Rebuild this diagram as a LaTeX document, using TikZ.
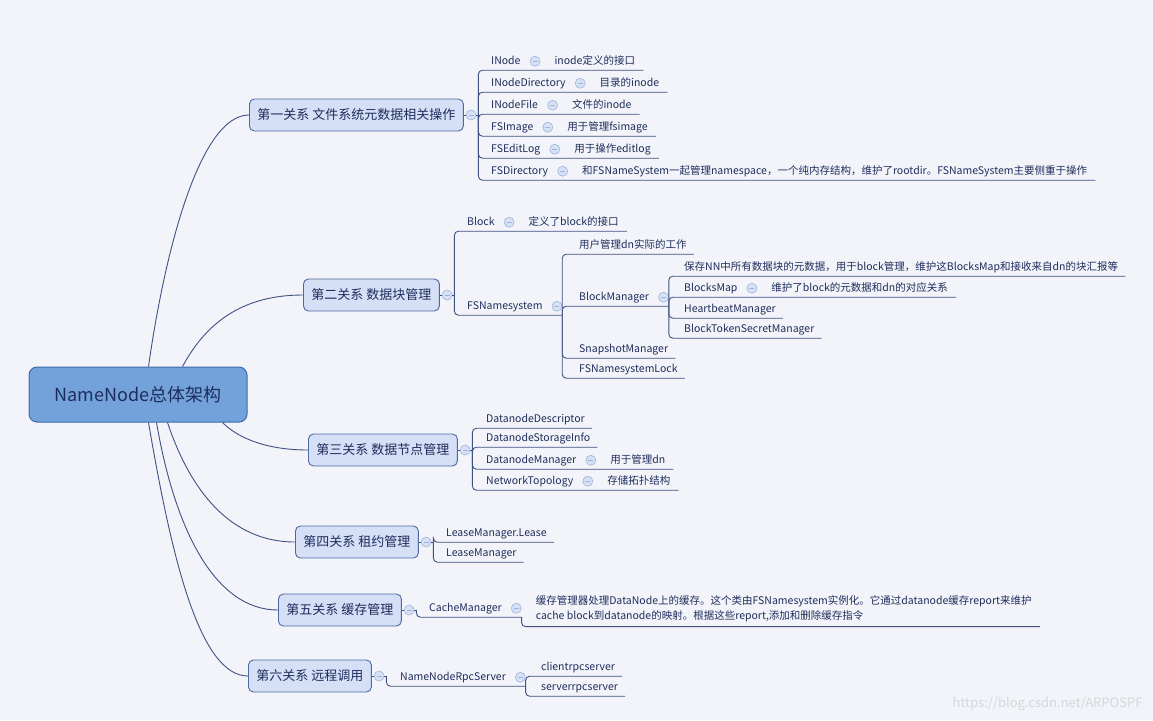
\documentclass[tikz,border=0pt]{standalone}
\usepackage{fontspec}
\setmainfont{Noto Sans CJK SC}
\usepackage{xcolor}
\usetikzlibrary{positioning}

\definecolor{paper}{RGB}{243,244,249}
\definecolor{ink}{RGB}{30,45,92}
\definecolor{wire}{RGB}{62,82,132}
\definecolor{topicfill}{RGB}{213,223,246}
\definecolor{topicline}{RGB}{78,104,162}
\definecolor{rootfill}{RGB}{115,162,218}
\definecolor{rootline}{RGB}{61,106,170}
\definecolor{foldfill}{RGB}{214,225,245}
\definecolor{foldline}{RGB}{160,180,218}

\begin{document}
\begin{tikzpicture}[
  x=1pt, y=-1pt,
  every node/.style={text=ink},
  link/.style={draw=wire, line width=0.9pt},
  elbow/.style={link, rounded corners=4pt},
  rootbox/.style={draw=rootline, fill=rootfill, line width=1pt, rounded corners=8pt, minimum width=218pt, minimum height=55pt, font=\fontsize{18}{22}\selectfont},
  topic/.style={draw=topicline, fill=topicfill, line width=0.9pt, rounded corners=5pt, anchor=west, inner xsep=8pt, minimum height=32pt, font=\fontsize{13}{16}\selectfont},
  leaf/.style={anchor=base west, inner xsep=0pt, inner ysep=3.5pt, text height=8pt, text depth=2.5pt, font=\fontsize{10.5}{13}\selectfont},
  memo/.style={anchor=west, align=left, inner xsep=0pt, inner ysep=5pt, font=\fontsize{10.5}{15}\selectfont},
  fold/.style={circle, draw=foldline, fill=foldfill, line width=0.6pt, minimum size=10pt, inner sep=0pt,
    path picture={\draw[foldline, line width=0.8pt] ([xshift=-2.5pt]path picture bounding box.center) -- ([xshift=2.5pt]path picture bounding box.center);}}
]
\fill[paper] (0,0) rectangle (1153,720);
\useasboundingbox (0,0) rectangle (1153,720);

\node[rootbox] (root) at (138,394.5) {NameNode总体架构};

% 第一关系
\node[topic] (t1) at (249,115) {第一关系 文件系统元数据相关操作};
\node[fold, right=2pt of t1] (f1) {};
\coordinate (j1) at ([xshift=2pt]f1.east);
\node[leaf] (inode) at (491,64) {INode};
\node[fold, right=9pt of inode] (finode) {};
\node[leaf, right=14pt of finode] (inodenote) {inode定义的接口};
\node[leaf] (inodedir) at (491,86) {INodeDirectory};
\node[fold, right=9pt of inodedir] (finodedir) {};
\node[leaf, right=14pt of finodedir] (inodedirnote) {目录的inode};
\node[leaf] (inodefile) at (491,108) {INodeFile};
\node[fold, right=9pt of inodefile] (finodefile) {};
\node[leaf, right=14pt of finodefile] (inodefilenote) {文件的inode};
\node[leaf] (fsimage) at (491,130) {FSImage};
\node[fold, right=9pt of fsimage] (ffsimage) {};
\node[leaf, right=14pt of ffsimage] (fsimagenote) {用于管理fsimage};
\node[leaf] (editlog) at (491,152) {FSEditLog};
\node[fold, right=9pt of editlog] (feditlog) {};
\node[leaf, right=14pt of feditlog] (editlognote) {用于操作editlog};
\node[leaf] (fsdir) at (491,174) {FSDirectory};
\node[fold, right=9pt of fsdir] (ffsdir) {};
\node[leaf, right=14pt of ffsdir] (fsdirnote) {和FSNameSystem一起管理namespace，一个纯内存结构，维护了rootdir。FSNameSystem主要侧重于操作};

% 第二关系
\node[topic] (t2) at (303,295) {第二关系 数据块管理};
\node[fold, right=2pt of t2] (f2) {};
\coordinate (j2) at ([xshift=2pt]f2.east);
\node[leaf] (block) at (467,225) {Block};
\node[fold, right=9pt of block] (fblock) {};
\node[leaf, right=14pt of fblock] (blocknote) {定义了block的接口};
\node[leaf] (fsn) at (467,309) {FSNamesystem};
\node[fold, right=9pt of fsn] (ffsn) {};
\coordinate (j3) at (ffsn.east |- fsn.south);
\node[leaf] (dnwork) at (579,248) {用户管理dn实际的工作};
\node[leaf] (bm) at (579,300) {BlockManager};
\node[fold, right=9pt of bm] (fbm) {};
\coordinate (j4) at (fbm.east |- bm.south);
\node[leaf] (nnmeta) at (684,270) {保存NN中所有数据块的元数据，用于block管理，维护这BlocksMap和接收来自dn的块汇报等};
\node[leaf] (bmap) at (684,291) {BlocksMap};
\node[fold, right=9pt of bmap] (fbmap) {};
\node[leaf, right=14pt of fbmap] (bmapnote) {维护了block的元数据和dn的对应关系};
\node[leaf] (hbm) at (684,312) {HeartbeatManager};
\node[leaf] (btsm) at (684,332) {BlockTokenSecretManager};
\node[leaf] (snap) at (579,352) {SnapshotManager};
\node[leaf] (fsnlock) at (579,372) {FSNamesystemLock};

% 第三关系
\node[topic] (t3) at (308,450) {第三关系 数据节点管理};
\node[fold, right=2pt of t3] (f3) {};
\coordinate (j5) at ([xshift=2pt]f3.east);
\node[leaf] (dndesc) at (486,422) {DatanodeDescriptor};
\node[leaf] (dnstore) at (486,441) {DatanodeStorageInfo};
\node[leaf] (dnm) at (486,463) {DatanodeManager};
\node[fold, right=9pt of dnm] (fdnm) {};
\node[leaf, right=14pt of fdnm] (dnmnote) {用于管理dn};
\node[leaf] (topo) at (486,484) {NetworkTopology};
\node[fold, right=9pt of topo] (ftopo) {};
\node[leaf, right=14pt of ftopo] (toponote) {存储拓扑结构};

% 第四关系
\node[topic] (t4) at (295,542) {第四关系 租约管理};
\node[fold, right=2pt of t4] (f4) {};
\coordinate (j6) at ([xshift=2pt]f4.east);
\node[leaf] (lease) at (446,536) {LeaseManager.Lease};
\node[leaf] (lm) at (446,556) {LeaseManager};

% 第五关系
\node[topic] (t5) at (278,610) {第五关系 缓存管理};
\node[fold, right=2pt of t5] (f5) {};
\coordinate (j7) at ([xshift=2pt]f5.east);
\node[leaf] (cm) at (429,611) {CacheManager};
\node[fold, right=9pt of cm] (fcm) {};
\coordinate (j8) at (fcm.east |- cm.south);
\node[memo, right=14pt of fcm] (cmnote) {缓存管理器处理DataNode上的缓存。这个类由FSNamesystem实例化。它通过datanode缓存report来维护\\cache block到datanode的映射。根据这些report,添加和删除缓存指令};

% 第六关系
\node[topic] (t6) at (248,676) {第六关系 远程调用};
\node[fold, right=2pt of t6] (f6) {};
\coordinate (j9) at ([xshift=2pt]f6.east);
\node[leaf] (rpc) at (400,680) {NameNodeRpcServer};
\node[fold, right=9pt of rpc] (frpc) {};
\coordinate (j10) at (frpc.east |- rpc.south);
\node[leaf] (client) at (541,670) {clientrpcserver};
\node[leaf] (server) at (541,690) {serverrpcserver};

\node[anchor=east, text=black!12!paper, font=\fontsize{13}{15}\selectfont] (wmark) at (1146,704) {https://blog.csdn.net/ARPOSPF};

% root to topics
\draw[link] ([xshift=120pt]root.north west) .. controls (165,250) and (200,115) .. (t1.west);
\draw[link] ([xshift=154pt]root.north west) .. controls (205,325) and (240,295) .. (t2.west);
\draw[link] ([xshift=194pt]root.south west) .. controls (240,440) and (270,450) .. (t3.west);
\draw[link] ([xshift=139pt]root.south west) .. controls (190,490) and (230,542) .. (t4.west);
\draw[link] ([xshift=128pt]root.south west) .. controls (175,530) and (215,610) .. (t5.west);
\draw[link] ([xshift=120pt]root.south west) .. controls (172,560) and (200,676) .. (t6.west);

% topic to folds
\foreach \t in {1,...,6}
  \draw[link] (t\t) -- (f\t);
\draw[link] (f1) -- (j1);
\draw[link] (f2) -- (j2);
\draw[link] (f3) -- (j5);
\draw[link] (f4) -- (j6);
\draw[link] (f5) -- (j7);
\draw[link] (f6) -- (j9);

% branches
\draw[elbow] (j1) |- ([xshift=8pt]inodenote.south east);
\draw[elbow] (j1) |- ([xshift=8pt]inodedirnote.south east);
\draw[elbow] (j1) |- ([xshift=8pt]inodefilenote.south east);
\draw[elbow] (j1) |- ([xshift=8pt]fsimagenote.south east);
\draw[elbow] (j1) |- ([xshift=8pt]editlognote.south east);
\draw[elbow] (j1) |- ([xshift=8pt]fsdirnote.south east);

\draw[elbow] (j2) |- ([xshift=8pt]blocknote.south east);
\draw[elbow] (j2) |- (j3);
\draw[elbow] (j3) |- ([xshift=7pt]dnwork.south east);
\draw[elbow] (j3) |- (j4);
\draw[elbow] (j3) |- ([xshift=7pt]snap.south east);
\draw[elbow] (j3) |- ([xshift=7pt]fsnlock.south east);
\draw[elbow] (j4) |- ([xshift=7pt]nnmeta.south east);
\draw[elbow] (j4) |- ([xshift=8pt]bmapnote.south east);
\draw[elbow] (j4) |- ([xshift=7pt]hbm.south east);
\draw[elbow] (j4) |- ([xshift=7pt]btsm.south east);

\draw[elbow] (j5) |- ([xshift=7pt]dndesc.south east);
\draw[elbow] (j5) |- ([xshift=7pt]dnstore.south east);
\draw[elbow] (j5) |- ([xshift=8pt]dnmnote.south east);
\draw[elbow] (j5) |- ([xshift=8pt]toponote.south east);

\draw[elbow] (j6) |- ([xshift=7pt]lease.south east);
\draw[elbow] (j6) |- ([xshift=7pt]lm.south east);

\draw[elbow] (j7) |- (j8);
\draw[elbow] (j8) |- ([xshift=8pt]cmnote.south east);

\draw[elbow] (j9) |- (j10);
\draw[elbow] (j10) |- ([xshift=7pt]client.south east);
\draw[elbow] (j10) |- ([xshift=7pt]server.south east);
\end{tikzpicture}
\end{document}
